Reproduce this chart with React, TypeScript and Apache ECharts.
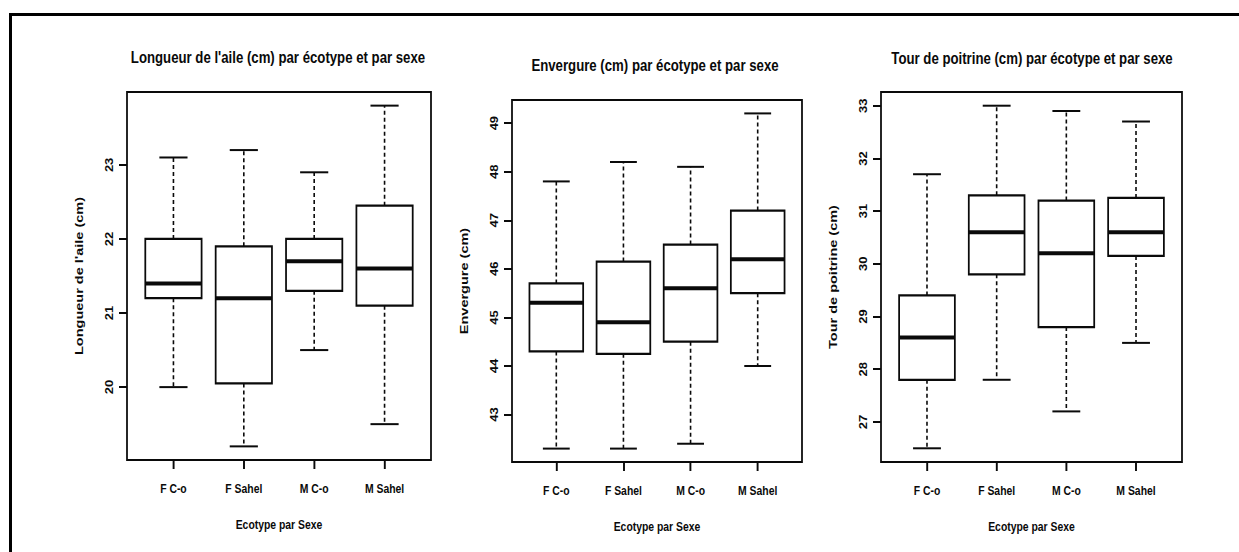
import React, { useEffect, useRef } from "react";
import * as echarts from "echarts";

// ---- data ----
const categories = ["F C-o", "F Sahel", "M C-o", "M Sahel"];
const categoryPositions = [1, 2, 3, 4];

// [lower whisker, Q1, median, Q3, upper whisker]
const wingLength = [
  [20.0, 21.2, 21.4, 22.0, 23.1],
  [19.2, 20.05, 21.2, 21.9, 23.2],
  [20.5, 21.3, 21.7, 22.0, 22.9],
  [19.5, 21.1, 21.6, 22.45, 23.8],
];
const wingspan = [
  [42.3, 44.3, 45.3, 45.7, 47.8],
  [42.3, 44.25, 44.9, 46.15, 48.2],
  [42.4, 44.5, 45.6, 46.5, 48.1],
  [44.0, 45.5, 46.2, 47.2, 49.2],
];
const chestGirth = [
  [26.5, 27.8, 28.6, 29.4, 31.7],
  [27.8, 29.8, 30.6, 31.3, 33.0],
  [27.2, 28.8, 30.2, 31.2, 32.9],
  [28.5, 30.15, 30.6, 31.25, 32.7],
];

const wingTicks = [20, 21, 22, 23];
const wingspanTicks = [43, 44, 45, 46, 47, 48, 49];
const chestTicks = [27, 28, 29, 30, 31, 32, 33];

const titles = [
  "Longueur de l'aile (cm) par écotype et par sexe",
  "Envergure (cm) par écotype et par sexe",
  "Tour de poitrine (cm) par écotype et par sexe",
];
const yNames = ["Longueur de l'aile (cm)", "Envergure (cm)", "Tour de poitrine (cm)"];
const xName = "Ecotype par Sexe";

// ---- layout ----
// The reference is horizontally squeezed; the chart is drawn wider and
// scaled back with a CSS transform so glyphs and lines get the same look.
const SQUEEZE = 0.8;
const PAGE_W = 1239;
const PAGE_H = 552;
const sx = (v: number) => v / SQUEEZE;

const grids = [
  { left: sx(127), top: 92, width: sx(304), height: 368 },
  { left: sx(512), top: 100, width: sx(290), height: 362 },
  { left: sx(881), top: 92, width: sx(301), height: 370 },
];
const titlePos = [
  [sx(278), 57],
  [sx(655), 65],
  [sx(1032), 58],
];

const INK = "#0a0a0a";
const SANS = '"Liberation Sans", Arial, sans-serif';

function rangeOf(stats: number[][]) {
  const lo = Math.min(...stats.map((s) => s[0]));
  const hi = Math.max(...stats.map((s) => s[4]));
  const pad = (hi - lo) * 0.04;
  return [lo - pad, hi + pad];
}

function renderBox(params: any, api: any) {
  const x = api.value(0);
  const mn = api.value(1);
  const q1 = api.value(2);
  const md = api.value(3);
  const q3 = api.value(4);
  const mx = api.value(5);
  const c = (xx: number, v: number) => api.coord([xx, v]);
  const tl = c(x - 0.4, q3);
  const br = c(x + 0.4, q1);
  const whisk = { stroke: INK, lineWidth: 2, lineDash: [4, 3] };
  const solid = (w: number) => ({ stroke: INK, lineWidth: w });
  const line = (a: number[], b: number[], style: any) => ({
    type: "line",
    shape: { x1: a[0], y1: a[1], x2: b[0], y2: b[1] },
    style,
  });
  return {
    type: "group",
    children: [
      line(c(x, q3), c(x, mx), whisk),
      line(c(x, q1), c(x, mn), whisk),
      line(c(x - 0.2, mx), c(x + 0.2, mx), solid(2)),
      line(c(x - 0.2, mn), c(x + 0.2, mn), solid(2)),
      {
        type: "rect",
        shape: { x: tl[0], y: tl[1], width: br[0] - tl[0], height: br[1] - tl[1] },
        style: { fill: "#fff", stroke: INK, lineWidth: 2.2 },
      },
      line(c(x - 0.4, md), c(x + 0.4, md), solid(4)),
    ],
  };
}

export default function App() {
  const ref = useRef<HTMLDivElement>(null);
  useEffect(() => {
    if (!ref.current) return;
    const chart = echarts.init(ref.current, null, { renderer: "svg" });
    const panels = [
      { stats: wingLength, ticks: wingTicks },
      { stats: wingspan, ticks: wingspanTicks },
      { stats: chestGirth, ticks: chestTicks },
    ];
    const option: any = {
      animation: false,
      backgroundColor: "#fff",
      grid: grids.map((g) => ({
        ...g,
        show: true,
        borderColor: INK,
        borderWidth: 2.2,
        backgroundColor: "transparent",
      })),
      xAxis: panels.map((_, i) => ({
        type: "value",
        gridIndex: i,
        min: 0.34,
        max: 4.66,
        name: xName,
        nameLocation: "middle",
        nameGap: 58,
        nameTextStyle: { fontFamily: SANS, fontSize: 13, fontWeight: "bold", color: INK },
        splitLine: { show: false },
        axisLine: { show: false },
        axisTick: {
          show: true,
          customValues: categoryPositions,
          length: 9,
          lineStyle: { color: INK, width: 2.4 },
        },
        axisLabel: {
          customValues: categoryPositions,
          formatter: (v: number) => categories[Math.round(v) - 1] ?? "",
          margin: 22,
          fontFamily: SANS,
          fontSize: 13,
          fontWeight: "bold",
          color: INK,
        },
      })),
      yAxis: panels.map((p, i) => {
        const [lo, hi] = rangeOf(p.stats);
        return {
          type: "value",
          gridIndex: i,
          min: lo,
          max: hi,
          name: yNames[i],
          nameLocation: "middle",
          nameRotate: 90,
          nameGap: 52,
          nameTextStyle: { fontFamily: SANS, fontSize: 14.5, fontWeight: "bold", color: INK },
          splitLine: { show: false },
          axisLine: { show: false },
          axisTick: {
            show: true,
            customValues: p.ticks,
            length: sx(8),
            lineStyle: { color: INK, width: 2 },
          },
          axisLabel: {
            customValues: p.ticks,
            rotate: 90,
            margin: 16,
            fontFamily: SANS,
            fontSize: 13,
            fontWeight: "bold",
            color: INK,
          },
        };
      }),
      series: panels.map((p, i) => ({
        type: "custom",
        xAxisIndex: i,
        yAxisIndex: i,
        renderItem: renderBox,
        encode: { x: 0, y: [1, 2, 3, 4, 5] },
        data: p.stats.map((s, k) => [categoryPositions[k], ...s]),
        silent: true,
      })),
      graphic: [
        {
          type: "line",
          shape: { x1: sx(9), y1: 14.5, x2: sx(PAGE_W), y2: 14.5 },
          style: { stroke: "#000", lineWidth: 3 },
        },
        {
          type: "line",
          shape: { x1: sx(10.5), y1: 13, x2: sx(10.5), y2: PAGE_H },
          style: { stroke: "#000", lineWidth: sx(3) },
        },
        ...titles.map((t, i) => ({
          type: "text",
          x: titlePos[i][0],
          y: titlePos[i][1],
          style: {
            text: t,
            fill: INK,
            fontFamily: SANS,
            fontSize: 16.5,
            fontWeight: "bold",
            align: "center",
            verticalAlign: "middle",
          },
        })),
      ],
    };
    chart.setOption(option);
    return () => chart.dispose();
  }, []);
  return (
    <div style={{ position: "fixed", left: 0, top: 0, width: PAGE_W, height: PAGE_H, overflow: "hidden", background: "#fff" }}>
      <div
        ref={ref}
        style={{
          width: sx(PAGE_W),
          height: PAGE_H,
          transform: `scaleX(${SQUEEZE})`,
          transformOrigin: "0 0",
        }}
      />
    </div>
  );
}
